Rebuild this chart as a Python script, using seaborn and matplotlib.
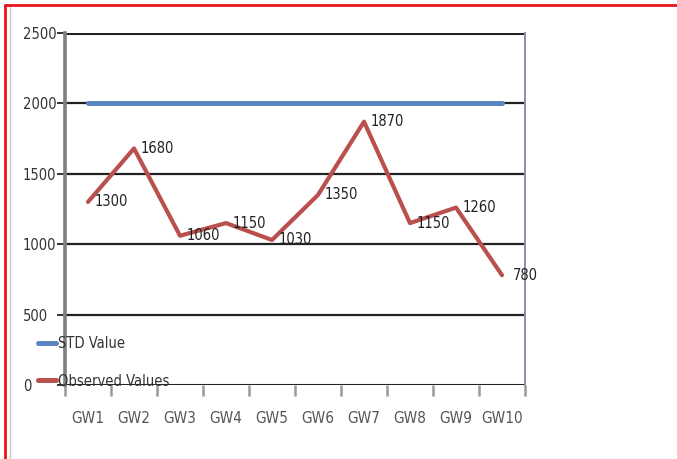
import matplotlib
matplotlib.use("Agg")
import matplotlib.pyplot as plt
import seaborn as sns
import pandas as pd
from matplotlib.lines import Line2D

wells = ["GW1", "GW2", "GW3", "GW4", "GW5", "GW6", "GW7", "GW8", "GW9", "GW10"]
std_value = [2000] * 10
observed = [1300, 1680, 1060, 1150, 1030, 1350, 1870, 1150, 1260, 780]
y_ticks = [0, 500, 1000, 1500, 2000, 2500]

df = pd.DataFrame({"pos": range(len(wells)), "Well": wells,
                   "STD Value": std_value, "Observed Values": observed})

sns.set_style("white")
plt.rcParams["font.family"] = ["DejaVu Sans"]
plt.rcParams["font.stretch"] = "condensed"
FS = 10.5

fig = plt.figure(figsize=(6.77, 4.59), dpi=100)
ax = fig.add_axes([65 / 677, 74 / 459, 460 / 677, 352 / 459])

blue = "#5A86BF"
red = "#B9504E"
sns.lineplot(data=df, x="pos", y="STD Value", ax=ax, color=blue, lw=3.6,
             sort=False, label="STD Value", zorder=3)
sns.lineplot(data=df, x="pos", y="Observed Values", ax=ax, color=red, lw=3.0,
             sort=False, label="Observed Values", zorder=4)

# value labels beside each observed point
for i, v in enumerate(observed):
    ax.text(i + 0.5, v, str(v), ha="center", va="center", fontsize=FS,
            color="#222222", zorder=5)

ax.set_xlim(-0.5, len(wells) - 0.5)
ax.set_ylim(0, 2500)
ax.set_yticks(y_ticks)
ax.set_yticklabels([str(t) for t in y_ticks], fontsize=FS, color="#333333")
for lbl in ax.get_yticklabels():
    lbl.set_horizontalalignment("left")
ax.set_xticks(range(len(wells)))
ax.set_xticklabels(wells, fontsize=11, color="#555555")
ax.set_xticks([k + 0.5 for k in range(-1, len(wells))], minor=True)
ax.tick_params(axis="x", which="major", bottom=True, length=0, pad=19)
ax.tick_params(axis="x", which="minor", bottom=True, length=8, width=1.8,
               color="#999999", direction="out")
ax.tick_params(axis="y", left=True, length=6, width=1.4, color="#333333",
               pad=24.5)
ax.set_xlabel("")
ax.set_ylabel("")

for t in y_ticks:
    ax.axhline(t, color="#222222", lw=1.6 if t not in (0, 2500) else 2.2,
               zorder=1)

for side in ["top", "bottom"]:
    ax.spines[side].set_visible(False)
ax.spines["left"].set_color("#7F7F7F")
ax.spines["left"].set_linewidth(2.6)
ax.spines["right"].set_color("#8A93A8")
ax.spines["right"].set_linewidth(1.4)

handles = [Line2D([0], [0], color=blue, lw=3.6),
           Line2D([0], [0], color=red, lw=3.6)]
leg = ax.legend(handles, ["STD Value", "Observed Values"], loc="upper left",
                bbox_to_anchor=(38 / 677, 1 - 336 / 459),
                bbox_transform=fig.transFigure, frameon=False,
                fontsize=FS, handlelength=1.2, handletextpad=0.2,
                labelspacing=1.55, borderaxespad=0, borderpad=0)
for txt in leg.get_texts():
    txt.set_color("#333333")
leg.set_zorder(6)

# page frame
fig.add_artist(Line2D([5 / 677, 1], [1 - 4.5 / 459, 1 - 4.5 / 459],
                      transform=fig.transFigure, color="#E8161B", lw=2))
fig.add_artist(Line2D([5.5 / 677, 5.5 / 677], [0, 1 - 4.5 / 459],
                      transform=fig.transFigure, color="#E8161B", lw=2))
fig.add_artist(Line2D([10 / 677, 10 / 677], [0, 1 - 7 / 459],
                      transform=fig.transFigure, color="#C8C8C8", lw=1))

fig.savefig("out.png", dpi=100)
